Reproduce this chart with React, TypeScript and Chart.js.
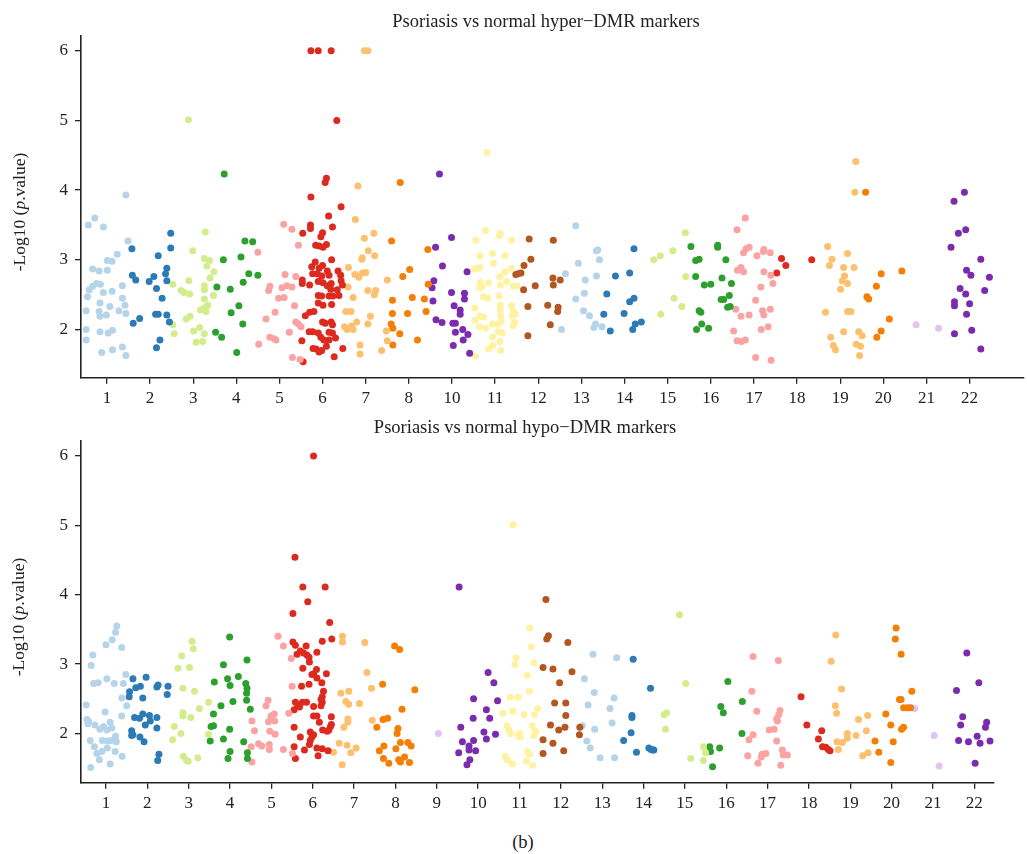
import React, { useEffect, useRef } from 'react';
import { Chart, registerables } from 'chart.js';

Chart.register(...registerables);

// Paired-like palette, cycled over chromosomes
const chrColors = [
  '#B5D4E9', '#2C7BB6', '#D4EC8C', '#2CA02C', '#FBA3A2', '#DC2A1F',
  '#FDC06E', '#F57E05', '#E2C4F2', '#7B2CAE', '#FFF2A0', '#B4561F',
];

const hyperTickLabels = ['1', '2', '3', '4', '5', '6', '7', '8', '10', '11', '12', '13', '14', '15', '16', '17', '18', '19', '20', '21', '22'];
const hypoTickLabels = ['1', '2', '3', '4', '5', '6', '7', '8', '9', '10', '11', '12', '13', '14', '15', '16', '17', '18', '19', '20', '21', '22'];
const yTickValues = [2, 3, 4, 5, 6];

// ---- Hyper-DMR markers: [axis position, -log10(p)] per chromosome ----
const hyper1 = [[0.57,3.50],[0.72,3.60],[0.92,3.47],[1.44,3.93],[1.49,3.27],[1.24,3.08],[1.01,2.99],[1.12,2.98],[0.67,2.87],[0.82,2.84],[1.01,2.85],[1.36,2.63],[0.85,2.65],[0.55,2.47],[0.59,2.57],[0.67,2.62],[0.76,2.66],[0.92,2.53],[1.12,2.55],[1.36,2.45],[0.84,2.38],[1.07,2.33],[1.42,2.35],[0.52,2.27],[0.82,2.26],[1.28,2.27],[0.84,2.19],[0.99,2.21],[1.44,2.23],[0.52,2.00],[0.84,1.97],[1.03,1.95],[1.13,1.99],[0.52,1.85],[0.88,1.67],[1.13,1.71],[1.36,1.75],[1.44,1.63]];
const hyper2 = [[2.48,3.38],[2.48,3.17],[1.58,3.16],[2.19,3.06],[2.39,2.88],[1.59,2.78],[1.67,2.71],[2.09,2.76],[2.36,2.80],[1.98,2.69],[2.39,2.70],[2.15,2.59],[2.28,2.45],[2.13,2.22],[2.19,2.22],[2.39,2.21],[2.45,2.11],[1.76,2.16],[1.61,2.09],[2.23,1.85],[2.15,1.74]];
const hyper3 = [[2.89,5.01],[3.28,3.40],[2.99,3.13],[3.26,3.02],[3.38,2.99],[3.32,2.91],[3.48,2.83],[3.39,2.74],[2.90,2.70],[2.53,2.65],[3.26,2.63],[3.26,2.57],[2.72,2.56],[2.79,2.53],[2.92,2.51],[3.47,2.49],[3.26,2.44],[3.34,2.35],[3.17,2.28],[3.30,2.26],[3.25,2.31],[2.93,2.19],[2.84,2.15],[2.53,2.07],[3.15,2.03],[3.01,1.98],[2.56,1.94],[3.26,1.94],[3.07,1.82],[3.22,1.83]];
const hyper4 = [[3.72,4.23],[4.20,3.27],[4.38,3.26],[4.11,3.04],[3.70,3.00],[4.29,2.80],[4.50,2.78],[4.16,2.68],[3.55,2.61],[3.86,2.58],[4.06,2.34],[3.88,2.24],[4.15,2.08],[3.52,1.96],[3.66,1.89],[4.01,1.67]];
const hyper5 = [[5.10,3.51],[5.29,3.44],[5.44,3.21],[4.50,3.11],[5.13,2.79],[5.38,2.76],[4.78,2.62],[4.75,2.56],[5.06,2.60],[5.17,2.63],[5.29,2.61],[4.98,2.45],[5.11,2.46],[5.35,2.34],[4.90,2.25],[4.69,2.15],[5.38,2.11],[5.44,2.08],[5.50,2.04],[5.23,1.96],[4.78,1.89],[4.88,1.87],[4.92,1.85],[4.52,1.79],[5.30,1.60],[5.48,1.57]];
const hyper6 = [[5.73,6.00],[5.90,6.00],[6.20,6.00],[6.33,5.00],[6.09,4.17],[6.06,4.11],[5.73,3.90],[6.43,3.76],[6.14,3.63],[5.72,3.50],[5.72,3.45],[5.54,3.38],[6.23,3.47],[6.00,3.39],[5.96,3.33],[5.84,3.21],[5.92,3.20],[6.09,3.22],[6.01,3.18],[6.21,3.00],[5.83,2.97],[5.75,2.90],[5.92,2.88],[6.00,2.92],[6.11,2.84],[6.36,2.84],[5.77,2.80],[5.88,2.80],[5.98,2.77],[6.15,2.78],[6.42,2.78],[6.43,2.70],[5.53,2.71],[5.53,2.66],[5.90,2.69],[6.01,2.67],[6.20,2.66],[6.11,2.63],[6.46,2.64],[5.70,2.64],[6.19,2.58],[6.34,2.57],[5.90,2.49],[5.98,2.48],[6.15,2.48],[6.24,2.48],[6.38,2.49],[5.90,2.38],[6.01,2.35],[6.21,2.36],[5.60,2.20],[5.70,2.25],[5.80,2.26],[6.00,2.11],[6.06,2.09],[6.20,2.11],[6.23,2.07],[5.69,1.97],[5.77,1.97],[5.90,1.95],[6.15,1.96],[6.23,1.95],[6.30,1.88],[6.03,1.85],[6.15,1.85],[5.96,1.89],[5.52,1.84],[5.78,1.73],[5.85,1.72],[5.98,1.70],[5.92,1.68],[6.09,1.76],[6.47,1.73],[6.27,1.61],[5.55,1.54]];
const hyper7 = [[6.97,6.00],[7.05,6.00],[6.82,4.06],[6.76,3.58],[7.19,3.38],[6.97,3.31],[7.06,3.13],[7.21,3.06],[6.92,3.03],[6.91,3.01],[6.60,2.89],[6.75,2.79],[6.84,2.75],[6.92,2.81],[7.00,2.82],[6.59,2.61],[7.05,2.56],[7.23,2.56],[7.20,2.50],[6.71,2.46],[6.54,2.26],[6.66,2.26],[7.11,2.19],[6.51,2.04],[6.67,2.05],[6.57,2.00],[6.71,2.00],[6.79,2.11],[7.05,2.08],[6.87,1.78],[6.87,1.65],[7.37,1.70],[7.48,1.98],[7.50,1.84],[7.50,2.71]];
const hyper8 = [[7.80,4.11],[7.60,3.27],[8.02,2.86],[7.86,2.76],[8.08,2.46],[8.36,2.44],[7.62,2.42],[7.62,2.23],[7.97,2.23],[7.59,2.08],[7.63,2.02],[7.79,1.94],[7.63,1.78],[8.20,1.85],[8.40,2.26],[8.44,3.15],[8.45,2.65]];
const hyper10 = [[8.71,4.23],[8.62,3.18],[8.99,3.32],[8.78,2.91],[9.35,2.83],[8.58,2.70],[8.54,2.60],[8.99,2.53],[9.29,2.52],[9.29,2.44],[8.56,2.41],[9.05,2.34],[9.19,2.28],[9.19,2.22],[8.63,2.14],[8.77,2.10],[9.02,2.09],[9.08,2.09],[9.08,1.96],[9.25,2.00],[9.37,1.93],[9.26,1.85],[9.03,1.77],[9.41,1.66]];
const hyper11 = [[9.81,4.54],[9.55,3.28],[9.78,3.42],[10.10,3.35],[10.12,3.38],[10.38,3.28],[9.65,3.06],[9.94,3.09],[10.23,3.06],[9.96,2.95],[9.52,2.87],[9.58,2.88],[9.65,2.89],[10.11,2.76],[10.23,2.83],[10.38,2.88],[9.66,2.68],[9.85,2.67],[10.27,2.69],[10.12,2.64],[9.64,2.60],[9.69,2.62],[10.42,2.62],[10.50,2.63],[9.73,2.47],[9.83,2.45],[10.09,2.48],[10.12,2.35],[10.12,2.29],[10.38,2.34],[9.53,2.31],[9.65,2.19],[9.73,2.18],[10.13,2.20],[10.42,2.26],[10.47,2.22],[9.53,2.13],[10.14,2.12],[10.07,2.08],[10.40,2.20],[10.45,2.10],[10.42,2.05],[9.94,2.08],[9.63,2.04],[9.78,2.02],[10.07,1.97],[10.17,1.95],[9.94,1.89],[10.11,1.83],[9.85,1.72],[9.94,1.77],[10.13,1.70],[9.54,1.62]];
const hyper12 = [[10.79,3.30],[11.35,3.28],[10.83,3.01],[10.67,2.92],[10.60,2.81],[10.53,2.80],[10.48,2.79],[11.34,2.74],[11.51,2.71],[11.35,2.64],[10.93,2.63],[10.66,2.57],[11.22,2.35],[11.46,2.32],[11.45,2.26],[10.76,2.33],[11.28,2.07],[10.76,1.91]];
const hyper13 = [[11.87,3.49],[12.35,3.13],[12.38,3.14],[11.93,2.95],[12.42,3.00],[11.63,2.80],[12.35,2.77],[12.09,2.71],[12.07,2.52],[11.87,2.44],[12.05,2.27],[12.19,2.20],[12.33,2.08],[12.29,2.03],[12.48,2.04],[11.54,2.00]];
const hyper14 = [[13.22,3.16],[12.79,2.77],[13.12,2.81],[12.59,2.51],[13.12,2.40],[13.22,2.45],[12.52,2.22],[12.99,2.23],[13.25,2.08],[13.39,2.11],[13.19,2.00],[12.67,1.98]];
const hyper15 = [[14.41,3.39],[14.12,3.13],[13.68,3.00],[13.83,3.06],[14.42,2.76],[14.15,2.45],[14.33,2.33],[13.84,2.22]];
const hyper16 = [[14.54,3.19],[15.16,3.21],[15.16,3.18],[14.65,2.99],[14.73,3.01],[15.35,3.00],[14.65,2.76],[15.26,2.74],[14.85,2.64],[15.00,2.65],[15.48,2.66],[15.43,2.49],[15.24,2.43],[15.30,2.43],[15.39,2.32],[15.45,2.33],[14.73,2.27],[14.77,2.25],[14.79,2.08],[14.67,2.00],[14.95,2.02]];
const hyper17 = [[15.80,3.60],[15.61,3.43],[15.82,3.16],[15.89,3.18],[15.76,3.10],[16.23,3.15],[16.22,3.12],[16.38,3.10],[16.07,3.06],[15.62,2.85],[15.70,2.89],[15.76,2.83],[16.23,2.83],[16.39,2.78],[16.44,2.66],[16.16,2.61],[16.04,2.42],[15.58,2.29],[16.20,2.27],[16.23,2.21],[16.38,2.29],[15.70,2.19],[15.89,2.21],[16.33,2.04],[15.53,1.98],[16.17,2.00],[15.61,1.84],[15.71,1.83],[15.80,1.85],[16.04,1.60],[16.40,1.56]];
const hyper18 = [[16.64,3.02],[16.74,2.92],[16.53,2.81],[17.34,3.00]];
const hyper19 = [[18.36,4.41],[18.34,3.97],[17.71,3.19],[18.17,3.09],[17.81,3.01],[17.75,2.92],[18.08,2.89],[18.32,2.89],[18.10,2.77],[18.05,2.70],[18.17,2.66],[18.01,2.58],[17.66,2.25],[18.17,2.26],[18.25,2.26],[18.08,1.97],[18.43,1.97],[18.51,1.91],[17.78,1.89],[17.84,1.77],[17.89,1.71],[18.37,1.79],[18.47,1.76],[18.45,1.63]];
const hyper20 = [[18.59,3.97],[19.43,2.84],[18.95,2.80],[18.84,2.62],[18.62,2.47],[18.66,2.44],[19.14,2.15],[18.95,1.98],[18.85,1.89]];
const hyper21 = [[19.76,2.07],[20.28,2.02]];
const hyper22 = [[20.88,3.97],[20.64,3.84],[20.91,3.43],[20.74,3.38],[20.57,3.18],[21.26,3.01],[20.93,2.85],[21.03,2.78],[21.46,2.75],[20.78,2.59],[21.35,2.56],[20.91,2.51],[20.65,2.40],[20.65,2.34],[21.00,2.37],[20.93,2.22],[20.65,1.94],[21.05,1.99],[21.26,1.72]];

// ---- Hypo-DMR markers ----
const hypo1 = [[1.26,3.55],[1.23,3.46],[1.15,3.35],[1.00,3.28],[1.38,3.24],[0.68,3.13],[0.64,2.98],[1.02,2.79],[0.70,2.72],[0.81,2.73],[1.20,2.72],[1.42,2.72],[1.48,2.85],[1.38,2.51],[1.50,2.40],[0.52,2.41],[0.98,2.31],[1.38,2.25],[0.54,2.20],[0.58,2.17],[0.56,2.14],[0.73,2.12],[1.10,2.16],[0.85,2.06],[0.94,2.10],[1.02,2.05],[1.14,2.08],[1.23,1.96],[1.25,1.88],[0.91,1.90],[1.03,1.89],[1.13,1.90],[0.62,1.90],[0.72,1.81],[0.78,1.71],[0.90,1.74],[1.03,1.79],[1.22,1.74],[1.39,1.67],[0.84,1.62],[1.10,1.56],[0.63,1.51]];
const hypo2 = [[1.65,2.79],[1.97,2.81],[1.83,2.68],[1.72,2.66],[1.57,2.60],[1.56,2.53],[2.26,2.70],[2.23,2.67],[2.50,2.68],[2.48,2.56],[1.89,2.51],[1.69,2.23],[1.89,2.28],[2.05,2.26],[1.81,2.22],[2.23,2.23],[2.07,2.18],[1.95,2.12],[2.23,2.08],[1.62,2.04],[1.65,1.98],[1.62,1.97],[1.82,1.95],[1.92,1.88],[2.28,1.70],[2.25,1.61]];
const hypo3 = [[3.08,3.33],[3.11,3.22],[2.83,3.12],[2.74,2.94],[3.02,2.95],[2.86,2.65],[3.14,2.61],[3.26,2.36],[2.86,2.30],[2.86,2.25],[3.05,2.23],[2.65,2.10],[2.81,2.00],[2.61,1.91],[2.87,1.67],[2.95,1.61],[2.99,1.60],[3.22,1.65],[3.48,2.45],[3.48,1.99]];
const hypo4 = [[3.99,3.39],[4.41,3.06],[3.84,2.99],[4.20,2.82],[3.94,2.79],[4.00,2.69],[3.62,2.74],[4.38,2.72],[4.41,2.65],[4.40,2.58],[4.07,2.46],[4.40,2.48],[3.78,2.40],[4.49,2.35],[3.60,2.28],[3.54,2.10],[3.60,2.11],[3.99,2.06],[3.84,1.92],[3.52,1.89],[4.33,1.88],[4.00,1.74],[4.42,1.72],[4.42,1.64],[3.95,1.64]];
const hypo5 = [[5.16,3.40],[5.29,3.26],[5.48,3.08],[5.50,2.68],[4.92,2.48],[4.87,2.40],[5.07,2.28],[4.99,2.25],[5.08,2.18],[4.93,2.17],[4.53,2.18],[5.42,2.29],[4.59,2.04],[4.96,2.03],[5.09,1.99],[4.69,1.85],[4.77,1.82],[4.51,1.81],[4.95,1.84],[4.95,1.77],[5.29,1.77],[5.51,1.71],[4.53,1.59]];
const hypo6 = [[6.02,6.00],[5.57,4.54],[5.76,4.11],[6.30,4.11],[5.88,3.90],[5.52,3.73],[6.41,3.60],[6.46,3.36],[6.23,3.33],[5.52,3.32],[5.58,3.27],[5.84,3.26],[6.10,3.17],[5.62,3.14],[5.70,3.19],[5.78,3.16],[5.86,3.13],[5.91,3.10],[5.92,3.03],[5.76,2.94],[6.09,2.92],[6.02,2.86],[6.33,2.86],[6.10,2.80],[5.98,2.85],[6.22,2.73],[5.91,2.71],[5.73,2.68],[6.26,2.61],[6.23,2.53],[6.20,2.49],[5.58,2.45],[5.55,2.34],[5.64,2.41],[5.85,2.45],[5.75,2.45],[6.02,2.39],[6.23,2.45],[5.68,2.38],[6.20,2.40],[6.45,2.24],[6.02,2.25],[6.10,2.25],[6.16,2.16],[6.45,2.13],[6.43,2.10],[6.39,2.05],[6.35,2.03],[5.55,2.09],[6.24,2.05],[5.94,2.02],[6.02,1.98],[5.70,1.95],[5.98,1.95],[5.94,1.90],[5.92,1.84],[5.55,1.81],[5.80,1.76],[6.10,1.79],[6.23,1.78],[6.37,1.75],[5.58,1.64],[6.13,1.68]];
const hypo7 = [[6.72,3.40],[6.72,3.32],[7.26,3.31],[7.31,2.88],[7.42,2.65],[6.68,2.58],[6.87,2.61],[6.80,2.46],[6.87,2.42],[7.13,2.43],[7.44,2.19],[6.85,2.21],[6.85,2.16],[6.75,2.09],[6.64,1.86],[6.83,1.83],[7.05,1.79],[6.50,1.73],[6.92,1.72],[6.71,1.55]];
const hypo8 = [[7.98,3.26],[8.10,3.21],[7.69,2.71],[8.47,2.63],[8.16,2.35],[7.70,2.20],[7.81,2.22],[7.55,2.09],[8.06,2.07],[8.04,2.00],[8.12,1.87],[8.30,1.87],[8.38,1.82],[7.72,1.82],[7.61,1.75],[8.01,1.78],[7.71,1.64],[7.84,1.57],[8.08,1.62],[8.12,1.59],[8.22,1.66],[8.34,1.58]];
const hypo9 = [[9.04,2.00]];
const hypo10 = [[9.54,4.11],[10.24,2.88],[10.38,2.73],[9.89,2.50],[10.47,2.47],[10.20,2.34],[9.88,2.22],[10.28,2.22],[9.58,2.09],[10.14,2.02],[10.42,1.99],[10.20,1.92],[9.62,1.88],[9.89,1.90],[9.78,1.82],[9.78,1.76],[9.94,1.75],[9.53,1.72],[9.80,1.62],[9.73,1.55]];
const hypo11 = [[10.84,5.01],[10.92,3.09],[10.89,2.99],[10.78,2.52],[10.97,2.52],[10.84,2.32],[10.60,2.29],[10.70,2.11],[10.74,2.05],[10.79,2.00],[10.98,1.97],[10.65,1.67],[10.71,1.62],[10.83,1.56],[11.25,3.52],[11.29,3.25],[11.35,3.02],[11.19,2.84],[11.24,2.61],[11.44,2.36],[11.11,2.27],[11.36,2.27],[11.31,2.11],[11.39,2.03],[11.35,1.97],[11.01,2.00],[11.01,1.95],[11.19,1.74],[11.24,1.70],[11.17,1.60],[11.32,1.54]];
const hypo12 = [[11.64,3.93],[11.70,3.41],[11.66,3.36],[12.17,3.31],[11.57,2.95],[11.81,2.93],[12.27,2.89],[11.97,2.73],[11.85,2.44],[12.12,2.44],[12.12,2.26],[11.75,2.12],[11.95,2.05],[12.10,2.09],[12.46,2.09],[12.45,1.98],[11.57,1.91],[11.81,1.86],[12.07,1.75],[11.57,1.71]];
const hypo13 = [[12.78,3.14],[13.35,3.09],[12.57,2.79],[12.81,2.59],[13.29,2.51],[12.66,2.41],[13.19,2.36],[13.24,2.15],[12.52,2.11],[12.82,2.06],[12.63,1.89],[12.71,1.79],[12.95,1.65],[13.30,1.65]];
const hypo14 = [[13.75,3.07],[14.17,2.65],[13.72,2.26],[13.72,2.23],[13.70,2.01],[13.52,1.90],[14.13,1.79],[14.18,1.77],[14.22,1.76],[13.83,1.73],[14.25,1.76]];
const hypo15 = [[14.87,3.71],[15.02,2.72],[14.50,2.27],[14.56,2.30],[14.53,2.06],[15.45,1.81],[15.50,1.72],[15.45,1.61],[15.14,1.64]];
const hypo16 = [[16.04,2.75],[16.39,2.46],[15.87,2.39],[15.93,2.30],[16.38,2.00],[15.60,1.81],[15.62,1.74],[15.84,1.79],[15.67,1.52]];
const hypo17 = [[16.65,3.11],[17.26,3.05],[16.62,2.61],[16.74,2.32],[17.30,2.33],[17.27,2.27],[17.22,2.21],[17.24,2.18],[17.04,2.05],[17.16,2.06],[16.65,1.98],[16.55,1.91],[17.22,1.89],[17.36,1.76],[17.38,1.69],[17.48,1.69],[16.87,1.70],[16.96,1.71],[16.85,1.66],[16.52,1.68],[16.77,1.57],[17.32,1.54]];
const hypo18 = [[17.81,2.53],[17.95,2.12],[18.31,2.04],[18.23,1.92],[18.33,1.81],[18.41,1.80],[18.47,1.77],[18.51,1.75]];
const hypo19 = [[18.65,3.42],[18.54,3.04],[18.79,2.64],[18.64,2.40],[18.67,2.29],[19.20,2.20],[19.42,2.26],[19.39,2.04],[18.93,2.00],[18.93,1.93],[18.68,1.88],[18.81,1.87],[19.14,1.97],[18.71,1.77],[19.30,1.68],[19.43,1.72]];
const hypo20 = [[20.11,3.52],[20.09,3.36],[20.23,3.14],[20.49,2.61],[20.19,2.49],[20.23,2.49],[20.29,2.37],[20.39,2.37],[20.46,2.37],[19.86,2.28],[19.98,2.12],[20.29,2.09],[20.24,2.06],[19.60,1.89],[20.04,1.88],[19.69,1.73],[19.98,1.58]];
const hypo21 = [[20.56,2.36],[21.03,1.97],[21.15,1.53]];
const hypo22 = [[21.82,3.16],[22.11,2.73],[21.57,2.62],[21.72,2.24],[21.67,2.12],[22.30,2.16],[22.27,2.09],[22.07,1.96],[21.62,1.90],[21.86,1.88],[22.14,1.86],[22.38,1.89],[22.02,1.57]];

const hyperSeries: [number, number[][]][] = [
  [1, hyper1], [2, hyper2], [3, hyper3], [4, hyper4], [5, hyper5], [6, hyper6], [7, hyper7], [8, hyper8],
  [10, hyper10], [11, hyper11], [12, hyper12], [13, hyper13], [14, hyper14], [15, hyper15], [16, hyper16],
  [17, hyper17], [18, hyper18], [19, hyper19], [20, hyper20], [21, hyper21], [22, hyper22],
];
const hypoSeries: [number, number[][]][] = [
  [1, hypo1], [2, hypo2], [3, hypo3], [4, hypo4], [5, hypo5], [6, hypo6], [7, hypo7], [8, hypo8], [9, hypo9],
  [10, hypo10], [11, hypo11], [12, hypo12], [13, hypo13], [14, hypo14], [15, hypo15], [16, hypo16],
  [17, hypo17], [18, hypo18], [19, hypo19], [20, hypo20], [21, hypo21], [22, hypo22],
];

const FONT = "'Liberation Serif', 'DejaVu Serif', serif";
const INK = '#222';

function makeChart(
  canvas: HTMLCanvasElement,
  series: [number, number[][]][],
  tickLabels: string[],
  xMin: number, xMax: number, yMin: number, yMax: number,
  padTop: number, padRight: number, xScaleH: number,
) {
  const gridOpts = { display: true, drawOnChartArea: false, drawTicks: true, tickLength: 6, color: INK, lineWidth: 1.3 };
  const borderOpts = { display: true, color: INK, width: 1.6 };
  return new Chart(canvas, {
    type: 'scatter',
    data: {
      datasets: series.map(([chr, pts]) => ({
        label: 'chr' + chr,
        data: pts.map(([x, y]) => ({ x, y })),
        backgroundColor: chrColors[(chr - 1) % 12],
        borderWidth: 0,
        pointRadius: 3.5,
        pointHoverRadius: 3.5,
        pointBorderWidth: 0,
      })),
    },
    options: {
      responsive: false,
      animation: false,
      devicePixelRatio: 1,
      events: [],
      layout: { padding: { top: padTop, right: padRight, left: 0, bottom: 0 } },
      plugins: { legend: { display: false }, tooltip: { enabled: false }, title: { display: false } },
      scales: {
        x: {
          type: 'linear',
          min: xMin,
          max: xMax,
          afterBuildTicks: (s: any) => { s.ticks = tickLabels.map((_, i) => ({ value: i + 1 })); },
          afterFit: (s: any) => { s.height = xScaleH; },
          grid: gridOpts,
          border: borderOpts,
          ticks: {
            autoSkip: false,
            maxRotation: 0,
            padding: 5,
            color: INK,
            font: { family: FONT, size: 17 },
            callback: (v: any) => tickLabels[Math.round(Number(v)) - 1] ?? '',
          },
        },
        y: {
          type: 'linear',
          min: yMin,
          max: yMax,
          afterBuildTicks: (s: any) => { s.ticks = yTickValues.map((v) => ({ value: v })); },
          afterFit: (s: any) => { s.width = 81; },
          grid: gridOpts,
          border: borderOpts,
          ticks: {
            padding: 7,
            color: INK,
            font: { family: FONT, size: 17 },
            callback: (v: any) => String(v),
          },
        },
      },
    } as any,
  });
}

const textBase: React.CSSProperties = {
  position: 'absolute',
  fontFamily: FONT,
  color: INK,
  whiteSpace: 'nowrap',
  lineHeight: 1,
  transform: 'translate(-50%, -50%)',
};

export default function App() {
  const topRef = useRef<HTMLCanvasElement>(null);
  const botRef = useRef<HTMLCanvasElement>(null);

  useEffect(() => {
    const c1 = makeChart(topRef.current!, hyperSeries, hyperTickLabels, 0.4, 22.25, 1.31, 6.21, 36, 0, 32.3);
    const c2 = makeChart(botRef.current!, hypoSeries, hypoTickLabels, 0.395, 22.477, 1.29, 6.22, 30.7, 33, 37.3);
    return () => { c1.destroy(); c2.destroy(); };
  }, []);

  return (
    <div style={{ position: 'absolute', left: 0, top: 0, width: 1027, height: 854, background: '#fff', overflow: 'hidden' }}>
      <canvas ref={topRef} width={1027} height={410} style={{ position: 'absolute', left: 0, top: 0, width: 1027, height: 410, display: 'block' }} />
      <canvas ref={botRef} width={1027} height={410} style={{ position: 'absolute', left: 0, top: 410, width: 1027, height: 410, display: 'block' }} />
      <div style={{ ...textBase, left: 546, top: 20.5, fontSize: 18.5 }}>Psoriasis vs normal hyper−DMR markers</div>
      <div style={{ ...textBase, left: 525, top: 427, fontSize: 18.5 }}>Psoriasis vs normal hypo−DMR markers</div>
      <div style={{ ...textBase, left: 20, top: 212, fontSize: 17.5, transform: 'translate(-50%, -50%) rotate(-90deg)' }}>-Log10 (<i>p</i>.value)</div>
      <div style={{ ...textBase, left: 19, top: 617, fontSize: 17.5, transform: 'translate(-50%, -50%) rotate(-90deg)' }}>-Log10 (<i>p</i>.value)</div>
      <div style={{ ...textBase, left: 523, top: 842, fontSize: 18.5 }}>(b)</div>
    </div>
  );
}
